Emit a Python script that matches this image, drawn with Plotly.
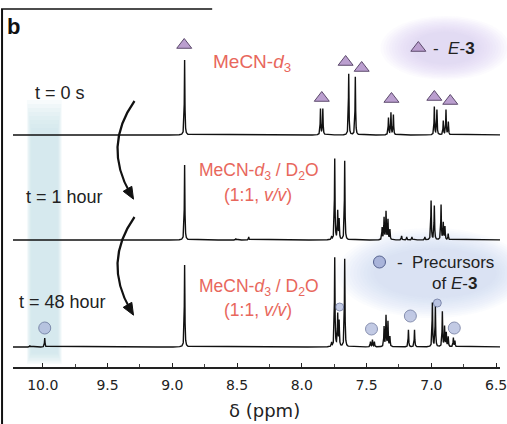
import numpy as np
import plotly.graph_objects as go

# ---------------- data ----------------
# peak lists: chemical shift (ppm) and intensity (arbitrary units, same scale for all)
peaks_t0_ppm = [8.905, 7.856, 7.838, 7.638, 7.587, 7.331, 7.312, 7.293,
                6.977, 6.957, 6.908, 6.887, 6.869]
peaks_t0_int = [75, 26, 26, 61, 58, 17, 22, 20,
                28, 25, 14, 25, 13]

peaks_t1_ppm = [8.905, 8.51, 8.41, 7.77, 7.746, 7.723, 7.712, 7.669,
                7.38, 7.365, 7.35, 7.335, 7.32, 7.23, 7.19, 7.15, 7.05,
                7.002, 6.977, 6.925, 6.908, 6.895, 6.87]
peaks_t1_int = [75, 1.5, 3, 3, 81, 28, 20, 79,
                12, 22, 28, 20, 10, 4, 3, 3, 3,
                39, 34, 35, 17, 13, 6]

peaks_t48_ppm = [9.985, 10.1, 8.905, 7.77, 7.746, 7.723, 7.712, 7.669,
                 7.47, 7.455, 7.44, 7.365, 7.35, 7.335, 7.32,
                 7.177, 7.13, 6.992, 6.969, 6.915, 6.898, 6.885, 6.87, 6.83, 6.818]
peaks_t48_int = [9, 1.5, 82, 4, 89, 32, 25, 88,
                 5, 7, 5, 20, 31, 25, 10,
                 17, 17, 44, 40, 35, 20, 14, 10, 9, 6]

offsets = [232, 127, 20]          # vertical stacking offsets of the three spectra

# E-3 markers (triangles) on the t = 0 spectrum
tri_ppm = [8.908, 7.846, 7.662, 7.538, 7.308, 6.977, 6.854]
tri_y = [322, 269, 305, 299, 268, 270, 266]

# precursor markers (circles) on the t = 48 h spectrum
circ_ppm = [9.985, 7.708, 7.462, 7.162, 6.954, 6.823]
circ_y = [39, 60, 38, 51, 64, 39]
circ_size = [12, 8, 12, 12, 8, 12]

x_tickvals = [10.0, 9.5, 9.0, 8.5, 8.0, 7.5, 7.0, 6.5]
x_ticktext = ["10.0", "9.5", "9.0", "8.5", "8.0", "7.5", "7.0", "6.5"]

# ---------------- figure geometry helpers ----------------
W, H = 507, 424
ML, MR, MT, MB = 13, 5, 0, 57
PW, PH = W - ML - MR, H - MT - MB


def px(x):
    return (x - ML) / PW


def py(y):
    return (H - MB - y) / PH


grid = np.arange(6.40, 10.30, 0.0005)
gamma = 0.0025


def spectrum(ppms, ints, off):
    y = np.zeros_like(grid)
    for p, h in zip(ppms, ints):
        y += h * gamma**2 / ((grid - p) ** 2 + gamma**2)
    return y + off


fig = go.Figure()
for pp, ii, off in zip([peaks_t0_ppm, peaks_t1_ppm, peaks_t48_ppm],
                       [peaks_t0_int, peaks_t1_int, peaks_t48_int], offsets):
    fig.add_trace(go.Scatter(x=grid, y=spectrum(pp, ii, off), mode="lines",
                             line=dict(color="#111111", width=1.4),
                             hoverinfo="skip", showlegend=False))

fig.add_trace(go.Scatter(x=tri_ppm, y=tri_y, mode="markers",
                         marker=dict(symbol="triangle-up", size=13, color="#bb9fcf",
                                     line=dict(color="#5c4a6c", width=1)),
                         showlegend=False, hoverinfo="skip"))
fig.add_trace(go.Scatter(x=circ_ppm, y=circ_y, mode="markers",
                         marker=dict(symbol="circle", size=circ_size, color="#a9b4da",
                                     line=dict(color="#56628f", width=1)),
                         showlegend=False, hoverinfo="skip"))
# legend markers
fig.add_trace(go.Scatter(x=[px(420)], y=[py(48)], xaxis="x2", yaxis="y2", mode="markers",
                         marker=dict(symbol="triangle-up", size=13, color="#bb9fcf",
                                     line=dict(color="#5c4a6c", width=1)),
                         showlegend=False, hoverinfo="skip"))
fig.add_trace(go.Scatter(x=[px(381)], y=[py(262)], xaxis="x2", yaxis="y2", mode="markers",
                         marker=dict(symbol="circle", size=12, color="#a9b4da",
                                     line=dict(color="#56628f", width=1)),
                         showlegend=False, hoverinfo="skip"))

shapes = []
# blue band (soft edges)
for k in range(8):
    shapes.append(dict(type="rect", xref="paper", yref="paper", layer="below",
                       x0=px(27 + k * 0.6), x1=px(62 - k * 0.6),
                       y0=py(364 - k * 1.5), y1=py(100 + k * 4),
                       fillcolor="rgba(200,229,234,0.14)", line=dict(width=0)))
# glow behind the legends (stacked translucent ellipses)
for k in range(12):
    s = k * 2.6
    shapes.append(dict(type="circle", xref="paper", yref="paper", layer="below",
                       x0=px(382 + s * 1.1), x1=px(512 - s * 1.1), y0=py(80 - s * 0.55), y1=py(16 + s * 0.55),
                       fillcolor="rgba(218,196,236,0.07)", line=dict(width=0)))
    shapes.append(dict(type="circle", xref="paper", yref="paper", layer="below",
                       x0=px(338 + s * 1.3), x1=px(530 - s * 1.1), y0=py(318 - s * 0.7), y1=py(228 + s * 0.7),
                       fillcolor="rgba(200,207,240,0.065)", line=dict(width=0)))

# curved arrows


def arrow(p0, c, p2):
    path = "M %f,%f Q %f,%f %f,%f" % (px(p0[0]), py(p0[1]), px(c[0]), py(c[1]), px(p2[0]), py(p2[1]))
    shapes.append(dict(type="path", xref="paper", yref="paper", path=path,
                       line=dict(color="#111111", width=2.2)))
    d = np.array([p2[0] - c[0], p2[1] - c[1]], float)
    d /= np.linalg.norm(d)
    n = np.array([-d[1], d[0]])
    tip = np.array(p2) + d * 6
    base = tip - d * 12
    a = base + n * 5
    b = base - n * 5
    hp = "M %f,%f L %f,%f L %f,%f Z" % (px(tip[0]), py(tip[1]), px(a[0]), py(a[1]), px(b[0]), py(b[1]))
    shapes.append(dict(type="path", xref="paper", yref="paper", path=hp,
                       fillcolor="#111111", line=dict(color="#111111", width=1)))


arrow((135, 101), (103, 146), (131, 194))
arrow((135, 217), (103, 262), (131, 310))

# frame lines
shapes.append(dict(type="line", xref="paper", yref="paper", x0=px(2), x1=px(2), y0=py(9), y1=py(430),
                   line=dict(color="#111111", width=2)))
shapes.append(dict(type="line", xref="paper", yref="paper", x0=px(1), x1=px(213), y0=py(9), y1=py(9),
                   line=dict(color="#111111", width=1.5)))

red = "#e8675c"
tf = "Liberation Sans, Arial, sans-serif"
ann = []


def text(x, y, s, size=17, color="#222222", xanchor="center", font=tf):
    ann.append(dict(xref="paper", yref="paper", x=px(x), y=py(y), text=s, showarrow=False,
                    xanchor=xanchor, yanchor="middle", font=dict(family=font, size=size, color=color)))


text(13, 26, "<b>b</b>", size=22, color="#111111")
text(253, 63, "MeCN-<i>d</i><sub>3</sub>", size=19, color=red)
text(260, 171, "MeCN-<i>d</i><sub>3</sub> / D<sub>2</sub>O", size=17.5, color=red)
text(259, 195, "(1:1, <i>v/v</i>)", size=17.5, color=red)
text(260, 287, "MeCN-<i>d</i><sub>3</sub> / D<sub>2</sub>O", size=17.5, color=red)
text(259, 310, "(1:1, <i>v/v</i>)", size=17.5, color=red)
text(60, 93, "t = 0 s", size=18)
text(65, 197, "t = 1 hour", size=18)
text(63, 302, "t = 48 hour", size=18)
text(433, 48, "-  <i>E</i>-<b>3</b>", size=17, xanchor="left")
text(397, 262, "-  Precursors", size=17, xanchor="left")
text(432, 283, "of <i>E</i>-<b>3</b>", size=17, xanchor="left")
text(266, 410, "δ (ppm)", size=18, font="DejaVu Sans, Verdana, sans-serif")

fig.update_layout(
    width=W, height=H, margin=dict(l=ML, r=MR, t=MT, b=MB),
    paper_bgcolor="white", plot_bgcolor="white",
    shapes=shapes, annotations=ann,
    xaxis=dict(range=[10.23, 6.47], tickvals=x_tickvals, ticktext=x_ticktext,
               showgrid=False, zeroline=False, showline=True, linecolor="#222222", linewidth=1.5,
               ticks="inside", ticklen=4, tickwidth=1.2, tickcolor="#222222",
               minor=dict(tickvals=[9.75, 9.25, 8.75, 8.25, 7.75, 7.25, 6.75], ticks="inside",
                          ticklen=3, tickcolor="#444444"),
               tickfont=dict(family="DejaVu Sans, Verdana, sans-serif", size=14, color="#222222"),
               ticklabelstandoff=4, ticklabeloverflow="allow"),
    yaxis=dict(range=[0, PH], visible=False, fixedrange=True),
    xaxis2=dict(range=[0, 1], visible=False, overlaying="x"),
    yaxis2=dict(range=[0, 1], visible=False, overlaying="y"),
)
fig.write_html("out.html")
